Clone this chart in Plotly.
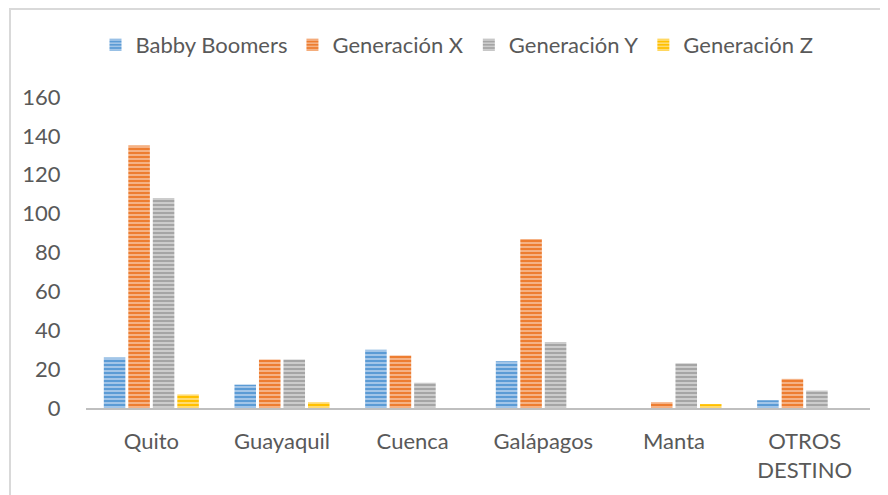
import plotly.graph_objects as go

categories = ["Quito", "Guayaquil", "Cuenca", "Galápagos", "Manta", "OTROS<br>DESTINO"]
series_names = ["Babby Boomers", "Generación X", "Generación Y", "Generación Z"]
babby_boomers = [26, 12, 30, 24, 0, 4]
generacion_x = [135, 25, 27, 87, 3, 15]
generacion_y = [108, 25, 13, 34, 23, 9]
generacion_z = [7, 3, 0, 0, 2, 0]
y_ticks = [0, 20, 40, 60, 80, 100, 120, 140, 160]

series_values = [babby_boomers, generacion_x, generacion_y, generacion_z]
colors = ["#5B9BD5", "#ED7D31", "#A5A5A5", "#FFC000"]
stripe = ["#b4d0ee", "#f8c09a", "#d6d6d6", "#ffe28f"]

# page has an 8px body margin, so the figure is 8px smaller than the window
W, H = 880, 487
ml, mr, mt, mb = 78, 18, 89, 87
pw, ph = W - ml - mr, H - mt - mb

fig = go.Figure()
for name, vals, c, s in zip(series_names, series_values, colors, stripe):
    fig.add_trace(go.Bar(
        x=categories, y=vals, name=name,
        marker=dict(
            color=c,
            line=dict(color=s, width=0),
            pattern=dict(shape="-", fgcolor=s, bgcolor=c, size=4, solidity=0.4, fillmode="replace"),
        ),
    ))

def px_x(p):
    return (p - ml) / pw

def px_y(p):
    return (H - mb - p) / ph

fig.add_shape(type="rect", xref="paper", yref="paper",
              x0=px_x(2), x1=px_x(900), y0=px_y(1), y1=px_y(510),
              line=dict(color="#d9d9d9", width=2), fillcolor="rgba(0,0,0,0)")

font_family = "Lato, 'Open Sans', sans-serif"
fs = 22
fig.update_layout(
    width=W, height=H,
    margin=dict(l=ml, r=mr, t=mt, b=mb),
    paper_bgcolor="white", plot_bgcolor="white",
    barmode="group", bargap=0.25, bargroupgap=0.12,
    font=dict(family=font_family, size=fs, color="#595959"),
    showlegend=True,
    legend=dict(orientation="h", x=px_x(449), xanchor="center", y=px_y(37), yanchor="middle",
                font=dict(size=fs, color="#595959"), traceorder="normal",
                itemwidth=30, bgcolor="rgba(0,0,0,0)"),
    xaxis=dict(showline=True, linecolor="#bfbfbf", linewidth=2, showgrid=False,
               ticks="outside", ticklen=13, tickcolor="rgba(0,0,0,0)",
               tickfont=dict(size=fs, color="#595959"), fixedrange=True),
    yaxis=dict(range=[0, 160], tickvals=y_ticks, showgrid=False, zeroline=False,
               showline=False, ticks="outside", ticklen=20, tickcolor="rgba(0,0,0,0)",
               tickfont=dict(size=fs, color="#595959"), fixedrange=True),
)

fig.write_html("out.html")
